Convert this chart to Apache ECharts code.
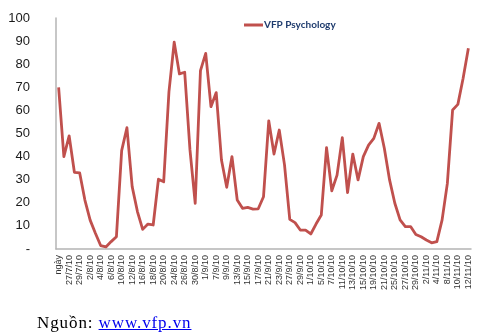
<!DOCTYPE html>
<html>
<head>
<meta charset="utf-8">
<script src="https://cdn.jsdelivr.net/npm/echarts@6/dist/echarts.min.js"></script>
<style>
  html, body { margin: 0; padding: 0; background: #fff; }
  #chart { position: absolute; left: 0; top: 0; width: 478px; height: 335px; }
  #src { position: absolute; left: 37px; top: 313px; font-family: "Liberation Serif", "DejaVu Serif", serif; font-size: 17px; letter-spacing: 0.9px; color: #000; white-space: nowrap; }
  #src a { color: #0000ee; text-decoration: underline; }
</style>
</head>
<body>
<div id="chart"></div>
<div id="src">Nguồn: <a href="#">www.vfp.vn</a></div>
<script>
const seriesName = 'VFP Psychology';

const categories = [
  'ngày', '26/7/10', '27/7/10', '28/7/10', '29/7/10', '30/7/10',
  '2/8/10', '3/8/10', '4/8/10', '5/8/10', '6/8/10',
  '9/8/10', '10/8/10', '11/8/10', '12/8/10', '13/8/10',
  '16/8/10', '17/8/10', '18/8/10', '19/8/10', '20/8/10',
  '23/8/10', '24/8/10', '25/8/10', '26/8/10', '27/8/10',
  '30/8/10', '31/8/10', '1/9/10',
  '6/9/10', '7/9/10', '8/9/10', '9/9/10', '10/9/10',
  '13/9/10', '14/9/10', '15/9/10', '16/9/10', '17/9/10',
  '20/9/10', '21/9/10', '22/9/10', '23/9/10', '24/9/10',
  '27/9/10', '28/9/10', '29/9/10', '30/9/10', '1/10/10',
  '4/10/10', '5/10/10', '6/10/10', '7/10/10', '8/10/10',
  '11/10/10', '12/10/10', '13/10/10', '14/10/10', '15/10/10',
  '18/10/10', '19/10/10', '20/10/10', '21/10/10', '22/10/10',
  '25/10/10', '26/10/10', '27/10/10', '28/10/10', '29/10/10',
  '1/11/10', '2/11/10', '3/11/10', '4/11/10', '5/11/10',
  '8/11/10', '9/11/10', '10/11/10', '11/11/10', '12/11/10'
];

const values = [
  70, 40, 49, 33.2, 33, 21.2, 12.5, 6.8, 1.5, 0.9,
  3.2, 5.3, 42.6, 52.5, 27, 16.2, 8.5, 10.8, 10.4, 30.2,
  29.1, 68, 89.5, 75.8, 76.5, 43, 19.8, 77.2, 84.7, 61.6,
  67.7, 38.5, 26.7, 40, 21.2, 17.6, 18, 17.3, 17.4, 22.6,
  55.5, 41.1, 51.5, 36.4, 12.8, 11.4, 8.2, 8.2, 6.5, 10.8,
  14.7, 43.9, 25.2, 32, 48.2, 24.4, 41.1, 29.9, 40, 45,
  47.9, 54.4, 43.6, 29.9, 19.8, 12.6, 9.7, 9.7, 6.3, 5.3,
  3.9, 2.7, 3.2, 12.6, 28.4, 60.2, 62.6, 73.9, 86.9
];

const yMin = 0, yMax = 100, yStep = 10;

const chart = echarts.init(document.getElementById('chart'), null, { renderer: 'canvas' });
chart.setOption({
  animation: false,
  backgroundColor: '#ffffff',
  grid: { left: 56, right: 7, top: 18, bottom: 86, containLabel: false },
  legend: {
    data: [{ name: seriesName, icon: 'rect' }],
    left: 239, top: 15,
    itemWidth: 19, itemHeight: 3, itemGap: 0,
    textStyle: { fontFamily: 'Lato, "Open Sans", sans-serif', fontWeight: 'bold', fontSize: 10, color: '#1f3c6e', padding: [0, 0, 0, -4] }
  },
  xAxis: {
    type: 'category',
    data: categories,
    boundaryGap: true,
    axisLine: { show: true, lineStyle: { color: '#b4b4b4', width: 1.5 } },
    axisTick: { show: false },
    axisLabel: { rotate: 90, interval: 1, fontSize: 9, margin: 6, color: '#333', fontFamily: 'Arial, "Liberation Sans", sans-serif' },
    splitLine: { show: false }
  },
  yAxis: {
    type: 'value',
    min: yMin, max: yMax, interval: yStep,
    axisLine: { show: true, lineStyle: { color: '#b4b4b4', width: 1.5 } },
    axisTick: { show: false },
    splitLine: { show: false },
    axisLabel: {
      margin: 26, fontSize: 13, color: '#1a1a1a', fontFamily: 'Arial, "Liberation Sans", sans-serif',
      formatter: v => (v === 0 ? '-' : String(v))
    }
  },
  series: [{
    name: seriesName,
    type: 'line',
    data: values,
    symbol: 'none',
    itemStyle: { color: '#c0504d' },
    lineStyle: { color: '#c0504d', width: 2.8, join: 'round' }
  }]
});
</script>
</body>
</html>
